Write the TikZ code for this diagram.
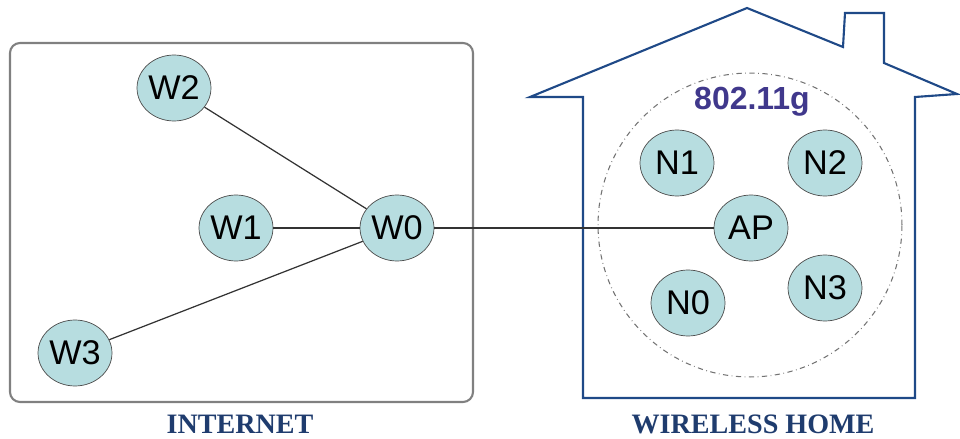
\documentclass[tikz,border=0pt]{standalone}
\usepackage{fontspec}
\setmainfont{Liberation Serif}
\newfontfamily\arialfont{Liberation Sans}
\usetikzlibrary{shapes.geometric}
\definecolor{nodefill}{RGB}{183,221,224}
\definecolor{housecol}{RGB}{31,73,135}
\definecolor{labcol}{RGB}{31,60,110}
\definecolor{wificol}{RGB}{64,56,140}
\newcommand{\myfont}{\arialfont\fontsize{19.5}{21}\selectfont}
\newcommand{\labfont}{\bfseries\fontsize{16}{18}\selectfont}
\newcommand{\nodew}{1.48cm}
\newcommand{\nodeh}{1.32cm}
\newcommand{\cellsize}{6.08cm}

\tikzset{
  station/.style={ellipse,
    minimum width=\nodew,
    minimum height=\nodeh,
    inner sep=0pt,
    draw=black!70,
    fill=nodefill,
    font=\myfont},
  link/.style={draw=black!80, line width=0.7pt},
  caption/.style={font=\labfont, text=labcol}
}

\begin{document}
\begin{tikzpicture}[x=0.02cm, y=-0.02cm]
  \useasboundingbox (0,0) rectangle (960,439);

  % internet box
  \draw [black!50, line width=1.2pt, rounded corners=0.2cm] (10,43) rectangle (473,402);

  % house outline with chimney
  \draw [housecol, line width=1.2pt, line join=miter]
  (530,97) -- (747,8) -- (843,47) -- (845,13) -- (884,13) -- (884,63)
  -- (957,94) -- (915,97) -- (915,398) -- (583,398) -- (583,97) -- cycle;

  % wireless cell
  \node [circle,
  minimum size=\cellsize,
  draw=black!55,
  dash dot,
  line width=0.6pt] (cell) at (750,225) {};

  \node [font=\arialfont\bfseries\fontsize{18.2}{20}\selectfont, text=wificol] (std) at (752,102) {802.11g};

  % wired stations
  \node [station] (w2) at (174,88) {W2};
  \node [station] (w1) at (236,228) {W1};
  \node [station] (w0) at (397,228) {W0};
  \node [station] (w3) at (75,353) {W3};

  % wireless stations
  \node [station] (n1) at (677,163) {N1};
  \node [station] (n2) at (825,163) {N2};
  \node [station] (ap) at (751,228) {AP};
  \node [station] (n0) at (688,303) {N0};
  \node [station] (n3) at (825,288) {N3};

  % links
  \draw [link] (w2) -- (w0);
  \draw [link] (w1) -- (w0);
  \draw [link] (w3) -- (w0);
  \draw [link] (w0) -- (ap);

  % captions
  \node [caption] (inet) at (240,424) {INTERNET};
  \node [caption] (home) at (753,424) {WIRELESS HOME};

\end{tikzpicture}
\end{document}
